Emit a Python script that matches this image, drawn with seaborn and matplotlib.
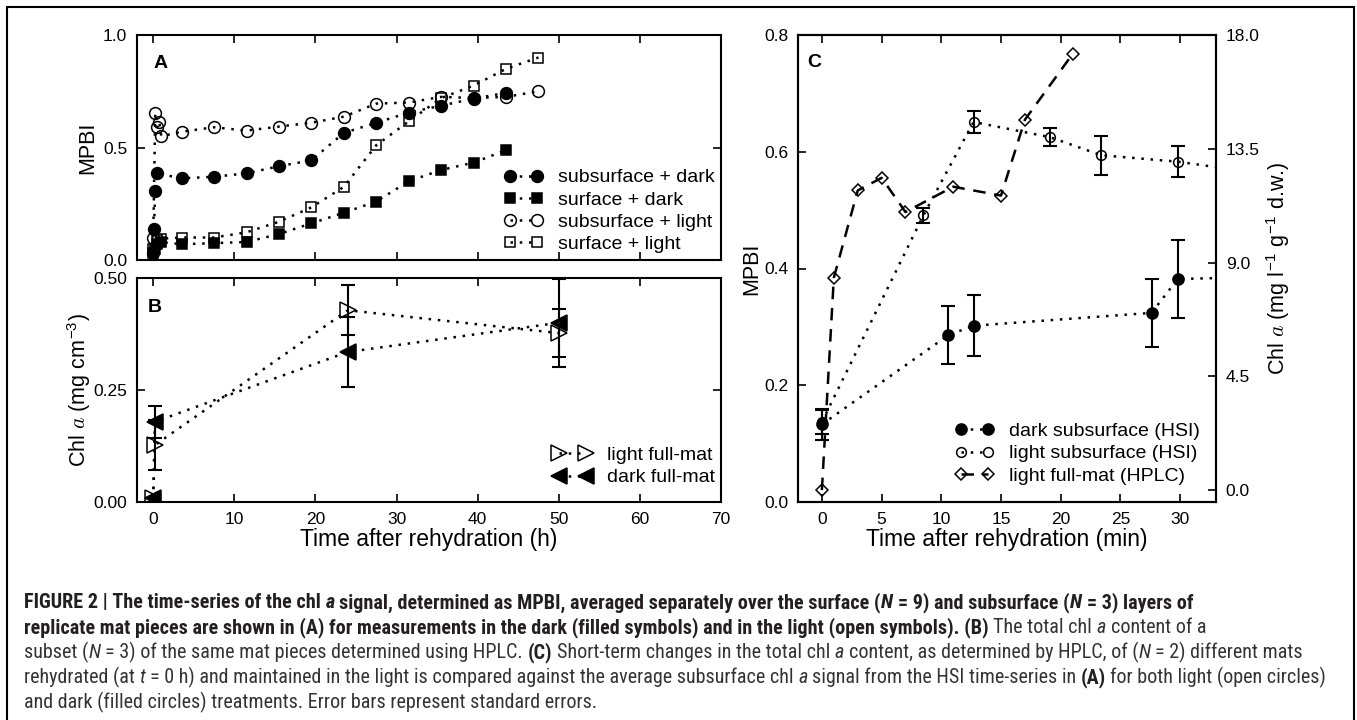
import numpy as np
import seaborn as sns
import matplotlib.pyplot as plt
from matplotlib.patches import Rectangle
from matplotlib.text import Annotation
from matplotlib import font_manager as fm

# ---- Panel A: MPBI (HSI), time in hours ----
sub_dark_t = [0, 0.1, 0.25, 0.5, 3.5, 7.5, 11.5, 15.5, 19.5, 23.5, 27.5, 31.5, 35.5, 39.5, 43.5]
sub_dark = [0.03, 0.137, 0.305, 0.385, 0.363, 0.37, 0.385, 0.417, 0.443, 0.565, 0.61, 0.655, 0.686, 0.717, 0.743]

surf_dark_t = [0, 0.25, 0.5, 1, 3.5, 7.5, 11.5, 15.5, 19.5, 23.5, 27.5, 31.5, 35.5, 39.5, 43.5]
surf_dark = [0.03, 0.05, 0.07, 0.08, 0.07, 0.075, 0.08, 0.115, 0.163, 0.21, 0.26, 0.35, 0.40, 0.433, 0.488]

sub_light_t = [0, 0.25, 0.5, 0.75, 1, 3.5, 7.5, 11.5, 15.5, 19.5, 23.5, 27.5, 31.5, 35.5, 39.5, 43.5, 47.5]
sub_light = [0.10, 0.655, 0.59, 0.615, 0.55, 0.57, 0.59, 0.575, 0.593, 0.61, 0.637, 0.695, 0.70, 0.725, 0.72, 0.725, 0.75]

surf_light_t = [0, 0.5, 1, 3.5, 7.5, 11.5, 15.5, 19.5, 23.5, 27.5, 31.5, 35.5, 39.5, 43.5, 47.5]
surf_light = [0.05, 0.09, 0.095, 0.10, 0.10, 0.123, 0.17, 0.234, 0.325, 0.51, 0.616, 0.72, 0.775, 0.85, 0.90]

# ---- Panel B: total chl a (HPLC), hours ----
hplc_t = [0, 0.2, 24, 50]
light_mat = [0.008, 0.127, 0.428, 0.377]
light_mat_se = [0, 0.056, 0.056, 0.054]
dark_mat = [0.008, 0.179, 0.335, 0.40]
dark_mat_se = [0, 0.036, 0.078, 0.098]

# ---- Panel C: short term, minutes ----
dark_hsi_t = [0, 10.6, 12.7, 27.6, 29.8, 36]
dark_hsi = [0.133, 0.286, 0.302, 0.324, 0.382, 0.385]
dark_hsi_se = [0.026, 0.049, 0.052, 0.058, 0.066, 0]

light_hsi_t = [0, 8.5, 12.7, 19.1, 23.4, 29.8, 36]
light_hsi = [0.137, 0.491, 0.651, 0.625, 0.594, 0.583, 0.565]
light_hsi_se = [0.02, 0.013, 0.019, 0.016, 0.033, 0.026, 0]

fullmat_t = [0, 1, 3, 5, 7, 11, 15, 17, 21]
fullmat_chl = [0.0, 8.4, 11.85, 12.35, 11.0, 12.0, 11.65, 14.65, 17.25]

# ---- style ----
sns.set_style("ticks")
plt.rcParams["font.family"] = ["Liberation Sans", "DejaVu Sans"]
plt.rcParams["mathtext.fontset"] = "cm"
plt.rcParams["axes.edgecolor"] = "k"
plt.rcParams["axes.labelcolor"] = "k"
plt.rcParams["text.color"] = "k"
plt.rcParams["xtick.color"] = "k"
plt.rcParams["ytick.color"] = "k"
plt.rcParams["axes.linewidth"] = 1.5

# caption font: a narrow face if there is one
fonts = fm.fontManager.ttflist
names = {f.name for f in fonts}
CAP_FONT, CAP_STRETCH = "Liberation Sans", "normal"
for cand in ["Liberation Sans Narrow", "Roboto Condensed", "Open Sans Condensed"]:
    if cand in names:
        CAP_FONT = cand
        break
else:
    if any(f.name == "DejaVu Sans" and f.stretch == "condensed" for f in fonts):
        CAP_FONT, CAP_STRETCH = "DejaVu Sans", "condensed"

W, H = 1357, 720
fig = plt.figure(figsize=(W / 100, H / 100), dpi=100)


def px_axes(l, t, r, b):
    return fig.add_axes([l / W, 1 - b / H, (r - l) / W, (b - t) / H])


axA = px_axes(137, 35, 721, 260)
axB = px_axes(137, 278, 721, 502)
axC = px_axes(798, 35, 1216, 502)

DOT = (0, (1, 2.7))
DASH = (0, (5, 3.5))
TICK = dict(direction="in", length=6, width=1.2, labelsize=12.5, pad=7)
LEG = dict(frameon=False, numpoints=2, fontsize=14, handlelength=2.0,
           handletextpad=0.8, labelspacing=0.24, borderpad=0, borderaxespad=0,
           loc="lower right")


def line(ax, t, v, marker, filled, ms, label, ls=DOT):
    sns.lineplot(x=t, y=v, ax=ax, color="k", estimator=None, sort=False,
                 marker=marker, ms=ms, mfc="k" if filled else "none",
                 mec="k", mew=1.1, linestyle=ls, lw=1.8, label=label)


# ---- A ----
line(axA, sub_dark_t, sub_dark, "o", True, 8.5, "subsurface + dark")
line(axA, surf_dark_t, surf_dark, "s", True, 7, "surface + dark")
line(axA, sub_light_t, sub_light, "o", False, 8.5, "subsurface + light")
line(axA, surf_light_t, surf_light, "s", False, 7, "surface + light")
axA.set_xlim(-2, 70)
axA.set_ylim(0, 1)
axA.set_xticks(range(0, 80, 10))
axA.set_yticks([0, 0.5, 1.0])
axA.set_yticklabels(["0.0", "0.5", "1.0"])
axA.tick_params(**TICK, top=True, right=True, labelbottom=False)
axA.set_ylabel("MPBI", fontsize=15.5)
axA.yaxis.set_label_coords(-0.066, 0.5)
axA.text(0.028, 0.875, "A", transform=axA.transAxes, fontsize=14,
         fontweight="bold", va="center")
axA.legend(bbox_to_anchor=(0.99, 0.03), **LEG)

# ---- B ----
EB = dict(fmt="none", ecolor="k", elinewidth=1.5, capsize=5, capthick=1.5, zorder=4)
axB.errorbar(hplc_t, light_mat, yerr=light_mat_se, **EB)
axB.errorbar(hplc_t, dark_mat, yerr=dark_mat_se, **EB)
line(axB, hplc_t, light_mat, ">", False, 11, "light full-mat")
line(axB, hplc_t, dark_mat, "<", True, 11, "dark full-mat")
axB.set_xlim(-2, 70)
axB.set_ylim(0, 0.5)
axB.set_xticks(range(0, 80, 10))
axB.set_yticks([0, 0.25, 0.5])
axB.set_yticklabels(["0.00", "0.25", "0.50"])
axB.tick_params(**TICK, top=True, right=True)
axB.set_xlabel("Time after rehydration (h)", fontsize=16.5, labelpad=1)
axB.set_ylabel(r"Chl $a$ (mg cm$^{\mathregular{-3}}$)", fontsize=15.5)
axB.yaxis.set_label_coords(-0.075, 0.5)
axB.text(0.019, 0.87, "B", transform=axB.transAxes, fontsize=14,
         fontweight="bold", va="center")
axB.legend(bbox_to_anchor=(0.99, 0.07), **LEG)

# ---- C ----
n_d = len(dark_hsi_t) - 1
n_l = len(light_hsi_t) - 1
axC.errorbar(dark_hsi_t[:n_d], dark_hsi[:n_d], yerr=dark_hsi_se[:n_d], **EB)
axC.errorbar(light_hsi_t[:n_l], light_hsi[:n_l], yerr=light_hsi_se[:n_l], **EB)
line(axC, dark_hsi_t, dark_hsi, "o", True, 8, "dark subsurface (HSI)")
line(axC, light_hsi_t, light_hsi, "o", False, 7, "light subsurface (HSI)")
axC.set_xlim(-2, 33)
axC.set_ylim(0, 0.8)
axC.set_xticks(range(0, 35, 5))
axC.set_yticks(np.arange(0, 0.81, 0.2))
axC.set_yticklabels(["0.0", "0.2", "0.4", "0.6", "0.8"])
axC.tick_params(**TICK, top=True, right=False)
axC.set_xlabel("Time after rehydration (min)", fontsize=16.5, labelpad=1)
axC.set_ylabel("MPBI", fontsize=15.5)
axC.yaxis.set_label_coords(-0.085, 0.5)
axC.text(0.022, 0.942, "C", transform=axC.transAxes, fontsize=14,
         fontweight="bold", va="center")

ax2 = axC.twinx()
line(ax2, fullmat_t, fullmat_chl, "D", False, 6.5, "light full-mat (HPLC)", ls=DASH)
ax2.set_ylim(-0.47, 18)
ax2.set_yticks([0, 4.5, 9, 13.5, 18])
ax2.set_yticklabels(["0.0", "4.5", "9.0", "13.5", "18.0"])
ax2.tick_params(**TICK)
ax2.set_ylabel(r"Chl $a$ (mg l$^{\mathregular{-1}}$ g$^{\mathregular{-1}}$ d.w.)", fontsize=15.5)
ax2.yaxis.set_label_coords(1.115, 0.5)
for s in ax2.spines.values():
    s.set_linewidth(1.5)

hc, lc = axC.get_legend_handles_labels()
h2, l2 = ax2.get_legend_handles_labels()
if axC.get_legend():
    axC.get_legend().remove()
if ax2.get_legend():
    ax2.get_legend().remove()
ax2.legend(hc + h2, lc + l2, bbox_to_anchor=(0.962, 0.037), **LEG)

# ---- frame + caption ----
fig.add_artist(Rectangle((7 / W, -0.02), (1354 - 7) / W, 1.02 - 7 / H,
                         transform=fig.transFigure, fill=False, ec="k", lw=1.5,
                         clip_on=False))

cap_lines = [
    [("FIGURE 2 | The time-series of the chl ", "b"), ("a", "bi"),
     (" signal, determined as MPBI, averaged separately over the surface (", "b"),
     ("N", "bi"), (" = 9) and subsurface (", "b"), ("N", "bi"), (" = 3) layers of", "b")],
    [("replicate mat pieces are shown in (A) for measurements in the dark (filled symbols) "
      "and in the light (open symbols). (B)", "b"),
     (" The total chl ", "r"), ("a", "i"), (" content of a", "r")],
    [("subset (", "r"), ("N", "i"),
     (" = 3) of the same mat pieces determined using HPLC. ", "r"), ("(C)", "b"),
     (" Short-term changes in the total chl ", "r"), ("a", "i"),
     (" content, as determined by HPLC, of (", "r"), ("N", "i"), (" = 2) different mats", "r")],
    [("rehydrated (at ", "r"), ("t", "i"),
     (" = 0 h) and maintained in the light is compared against the average subsurface chl ", "r"),
     ("a", "i"), (" signal from the HSI time-series in ", "r"), ("(A)", "b"),
     (" for both light (open circles)", "r")],
    [("and dark (filled circles) treatments. Error bars represent standard errors.", "r")],
]
cap_y = [608, 633, 658, 683, 708]
cap_right = [1313, 1291, 1337, 1336]   # right ends of the full lines in the reference
renderer = fig.canvas.get_renderer()


def text_w(s, size):
    p = fig.text(0, 0, s, fontsize=size, family=CAP_FONT, fontstretch=CAP_STRETCH)
    w = p.get_window_extent(renderer).width
    p.remove()
    return w


def caption_line(segs, y_px, size):
    space_pt = (text_w("x x", size) - text_w("xx", size)) * 72 / fig.dpi
    arts = []
    prev = None
    trailing = False
    for txt, st in segs:
        kw = dict(fontsize=size, family=CAP_FONT, fontstretch=CAP_STRETCH,
                  va="baseline", ha="left",
                  fontweight="bold" if "b" in st else "normal",
                  fontstyle="italic" if "i" in st else "normal",
                  color="#231f20" if "b" in st else "#333333")
        lead = txt.startswith(" ")
        if prev is None:
            prev = fig.text(24 / W, 1 - y_px / H, txt.strip(), **kw)
        else:
            gap = space_pt if (lead or trailing) else 0.3
            prev = fig.add_artist(Annotation(txt.strip(), xy=(1, 1 - y_px / H),
                                             xycoords=(prev, "figure fraction"),
                                             xytext=(gap, 0), textcoords="offset points",
                                             **kw))
        arts.append(prev)
        trailing = txt.endswith(" ")
    return arts


# fit one caption size so that no full line runs past its reference end
cap_size = 10.0
for _ in range(3):
    trial = [caption_line(s, y, cap_size) for s, y in zip(cap_lines[:4], cap_y[:4])]
    fig.canvas.draw()
    ends = [arts[-1].get_window_extent(renderer).x1 for arts in trial]
    for arts in trial:
        for a in arts:
            a.remove()
    cap_size *= min((r - 24) / (e - 24) for r, e in zip(cap_right, ends))

for segs, y in zip(cap_lines, cap_y):
    caption_line(segs, y, cap_size)

fig.savefig("out.png", dpi=100)
